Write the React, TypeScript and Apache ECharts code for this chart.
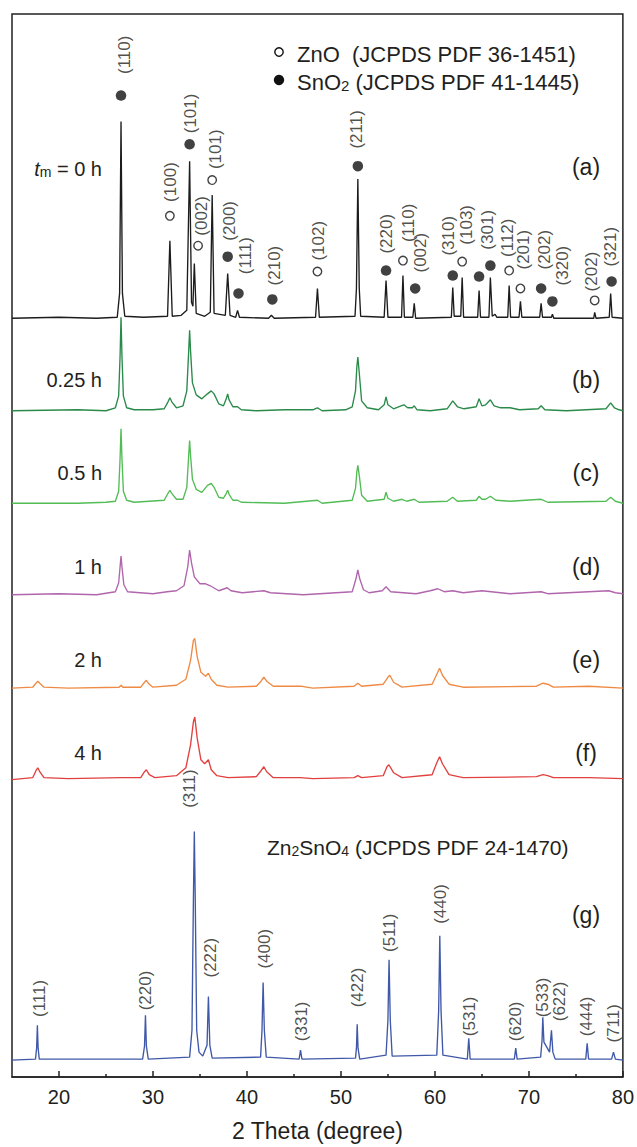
import React, { useEffect, useRef } from "react";
import * as echarts from "echarts";

// ---------- axis ----------
const X_MIN = 15;
const X_MAX = 80;
const MAJOR_TICKS = [20, 30, 40, 50, 60, 70, 80];
const MINOR_TICKS = [25, 35, 45, 55, 65, 75];

// ---------- patterns: [2theta, intensity above own baseline] ----------
const patternA = [
  [15, 0], [20, 1], [24, 0], [26.2, 1], [26.45, 25], [26.6, 198], [26.75, 25], [27.0, 2], [29, 1],
  [31.55, 2], [31.8, 78], [32.05, 2], [33.0, 3], [33.6, 8], [33.9, 158], [34.1, 16], [34.25, 12], [34.4, 55], [34.6, 5],
  [35.5, 2], [36.1, 6], [36.3, 124], [36.5, 5], [37.7, 3], [37.95, 45], [38.2, 3], [38.8, 1], [39.0, 8], [39.2, 1],
  [42.3, 0], [42.6, 3], [42.9, 0], [47.3, 1], [47.5, 30], [47.7, 1], [51.5, 2], [51.65, 30], [51.8, 140], [51.95, 30],
  [52.1, 2], [54.6, 1], [54.8, 38], [55.0, 1], [56.45, 1], [56.6, 43], [56.75, 1], [57.65, 1], [57.8, 15], [57.95, 0],
  [61.75, 1], [61.9, 31], [62.05, 2], [62.75, 2], [62.9, 41], [63.05, 1], [64.55, 1], [64.7, 28], [64.85, 1],
  [65.75, 1], [65.9, 41], [66.1, 2], [66.4, 4], [66.6, 1], [67.75, 1], [67.9, 33], [68.05, 1], [68.95, 1], [69.1, 17],
  [69.25, 1], [71.15, 1], [71.3, 15], [71.45, 1], [72.4, 1], [72.5, 4], [72.65, 0], [76.9, 0], [77.0, 6], [77.15, 0],
  [78.55, 1], [78.7, 25], [78.85, 1], [80, 0],
];

const patternB = [
  [15, 0], [22, 1], [25, 0], [26.0, 3], [26.35, 15], [26.5, 55], [26.6, 94], [26.7, 55], [26.85, 15], [27.2, 3],
  [28, 1], [30, 1], [31.2, 2], [31.6, 9], [31.8, 13], [32.0, 9], [32.5, 3], [33.2, 5], [33.6, 20], [33.8, 60],
  [33.9, 81], [34.0, 60], [34.2, 28], [34.6, 16], [35.2, 12], [35.8, 17], [36.2, 20], [36.5, 17], [37.0, 7],
  [37.5, 5], [37.8, 12], [37.95, 17], [38.1, 11], [38.5, 4], [39.0, 4], [39.4, 1], [41, 0], [44, 1], [47.0, 1],
  [47.5, 3], [48, 0], [50.5, 1], [51.2, 4], [51.55, 20], [51.7, 45], [51.8, 54], [51.95, 38], [52.2, 10], [52.8, 3],
  [54.0, 1], [54.6, 6], [54.8, 14], [55.0, 6], [55.6, 2], [56.4, 5], [56.7, 6], [57.1, 3], [57.6, 3], [57.8, 5],
  [58.1, 1], [59.5, 0], [61.3, 2], [61.9, 10], [62.4, 4], [63.1, 2], [64.4, 4], [64.7, 12], [65.0, 5], [65.4, 6],
  [65.9, 11], [66.3, 5], [67, 3], [68, 3], [69, 1], [71.0, 2], [71.3, 5], [71.7, 1], [74, 0], [78.2, 2], [78.7, 8],
  [79.1, 3], [79.6, 1], [80, 0],
];

const patternC = [
  [15, 0], [22, 0], [25, 1], [26.0, 2], [26.35, 12], [26.5, 45], [26.6, 75], [26.7, 45], [26.85, 12], [27.2, 3],
  [28, 1], [31.2, 3], [31.6, 10], [31.8, 13], [32.0, 10], [32.5, 4], [33.2, 4], [33.6, 16], [33.8, 48], [33.9, 63],
  [34.0, 48], [34.2, 24], [34.6, 14], [35.2, 11], [35.8, 18], [36.2, 20], [36.5, 16], [37.0, 6], [37.5, 5],
  [37.8, 10], [37.95, 13], [38.1, 9], [38.5, 3], [39.0, 3], [39.4, 1], [44, 0], [47.5, 3], [48, 0], [51.2, 3],
  [51.55, 15], [51.7, 32], [51.8, 38], [51.95, 28], [52.2, 8], [52.8, 2], [54.6, 4], [54.8, 11], [55.0, 5],
  [55.6, 2], [56.5, 4], [57, 2], [57.8, 4], [58.3, 1], [61.3, 2], [61.9, 6], [62.4, 2], [64.4, 3], [64.7, 7],
  [65.0, 4], [65.4, 4], [65.9, 7], [66.5, 3], [68, 2], [71.3, 4], [72, 1], [78.2, 2], [78.7, 6], [79.2, 2], [80, 0],
];

const patternD = [
  [15, 0], [20, 1], [24, 0], [26.0, 3], [26.35, 12], [26.5, 28], [26.6, 39], [26.7, 28], [26.9, 10], [27.3, 3],
  [30, 1], [31.5, 3], [32.5, 4], [33.3, 9], [33.7, 28], [33.9, 45], [34.1, 32], [34.4, 18], [35, 11], [35.6, 11],
  [36.1, 9], [37, 4], [37.9, 7], [38.3, 4], [39.5, 2], [41.8, 4], [42.5, 2], [46, 0], [51.2, 3], [51.6, 16],
  [51.8, 25], [52.0, 16], [52.4, 5], [53, 2], [54.4, 4], [54.8, 8], [55.3, 3], [58, 1], [59.5, 4], [60.3, 6],
  [61, 3], [61.9, 4], [63, 2], [65, 4], [66, 3], [68, 1], [71.3, 3], [72, 1], [78.5, 4], [79.2, 2], [80, 1],
];

const patternE = [
  [15, 0], [17.2, 1], [17.55, 5], [17.75, 7], [17.95, 5], [18.4, 1], [21, 0], [26.4, 1], [26.6, 3], [26.8, 1],
  [28.7, 1], [29.1, 6], [29.3, 8], [29.5, 5], [30, 1], [32.5, 3], [33.5, 9], [34.0, 28], [34.3, 48], [34.45, 50],
  [34.7, 32], [35.1, 16], [35.6, 12], [35.9, 15], [36.2, 9], [36.8, 3], [38, 1], [41.0, 2], [41.5, 7], [41.8, 11],
  [42.1, 7], [42.8, 2], [45.7, 2], [47, 0], [51.4, 2], [51.8, 5], [52.2, 2], [54.5, 4], [55.0, 11], [55.2, 13],
  [55.6, 6], [56.5, 1], [59.7, 4], [60.2, 14], [60.5, 20], [60.8, 13], [61.5, 4], [63, 1], [70.8, 2], [71.5, 5],
  [72.0, 4], [72.6, 1], [76.4, 2], [80, 0],
];

const patternF = [
  [15, 0], [17.2, 2], [17.55, 9], [17.75, 12], [17.95, 8], [18.4, 2], [21, 1], [26.6, 2], [28.7, 2], [29.1, 8],
  [29.3, 10], [29.6, 5], [30.2, 2], [32.5, 4], [33.5, 12], [34.0, 35], [34.3, 58], [34.45, 63], [34.7, 42],
  [35.1, 20], [35.5, 16], [35.9, 20], [36.2, 10], [36.8, 4], [38, 2], [41.0, 3], [41.5, 9], [41.8, 13], [42.1, 8],
  [42.8, 2], [45.7, 2], [47, 1], [51.4, 2], [51.8, 4], [52.2, 2], [54.5, 4], [54.9, 13], [55.1, 15], [55.6, 7],
  [56.5, 2], [59.7, 5], [60.2, 17], [60.5, 23], [60.8, 16], [61.5, 5], [63, 2], [70.8, 3], [71.5, 5], [72.0, 4],
  [72.6, 2], [76.4, 2], [80, 1],
];

const patternG = [
  [15, 0], [17.5, 1], [17.62, 12], [17.7, 35], [17.78, 12], [17.9, 1], [28.9, 1], [29.1, 14], [29.2, 45], [29.3, 14],
  [29.5, 1], [33.9, 3], [34.15, 30], [34.3, 160], [34.4, 230], [34.5, 160], [34.65, 30], [34.9, 8], [35.3, 4],
  [35.75, 15], [35.9, 64], [36.05, 15], [36.3, 2], [41.45, 3], [41.6, 30], [41.72, 78], [41.85, 30], [42.05, 3],
  [45.55, 1], [45.7, 10], [45.85, 1], [51.55, 2], [51.65, 12], [51.73, 36], [51.82, 12], [52, 1], [54.8, 5],
  [55.0, 40], [55.12, 101], [55.25, 40], [55.45, 4], [60.2, 5], [60.4, 50], [60.52, 125], [60.65, 50], [60.85, 5],
  [63.45, 1], [63.6, 22], [63.75, 1], [68.45, 1], [68.6, 12], [68.75, 1], [71.25, 3], [71.4, 20], [71.48, 43],
  [71.6, 18], [72.2, 8], [72.4, 30], [72.55, 8], [72.8, 1], [76.05, 1], [76.2, 17], [76.35, 1], [78.8, 1],
  [79.0, 8], [79.2, 1], [80, 0],
];

const PATTERNS = [patternA, patternB, patternC, patternD, patternE, patternF, patternG];
const OFFSETS = [763, 670, 577, 485, 391, 299, 17];
const PATTERN_NAMES = ["(a)", "(b)", "(c)", "(d)", "(e)", "(f)", "(g)"];
const TIME_LABELS = ["0 h", "0.25 h", "0.5 h", "1 h", "2 h", "4 h"];
const COLORS = ["#1c1c1c", "#2a8a4a", "#52bc55", "#b065ac", "#ef8a45", "#e2403f", "#3f58a8"];

// ---------- phase markers on (a) ----------
const SNO2_X = [26.6, 33.9, 37.95, 39.1, 42.7, 51.8, 54.8, 57.9, 61.9, 64.7, 65.9, 71.3, 72.5, 78.8];
const SNO2_Y = [987, 938, 825, 788, 782, 916, 811, 793, 806, 805, 816, 793, 780, 800];
const ZNO_X = [31.8, 34.8, 36.3, 47.5, 56.6, 62.9, 67.9, 69.1, 77.0];
const ZNO_Y = [866, 836, 902, 810, 821, 820, 811, 793, 781];

// ---------- hkl labels ----------
const A_HKL = ["(110)", "(100)", "(101)", "(002)", "(101)", "(200)", "(111)", "(210)", "(102)", "(211)", "(220)",
  "(110)", "(002)", "(310)", "(103)", "(301)", "(112)", "(201)", "(202)", "(320)", "(202)", "(321)"];
const A_HKL_X = [27.0, 31.9, 34.0, 35.2, 36.7, 38.1, 39.8, 42.9, 47.6, 51.7, 54.9, 57.2, 58.5, 61.4, 63.4, 65.6,
  67.7, 69.4, 71.7, 73.6, 76.7, 78.7];
const A_HKL_Y = [1028, 900, 969, 866, 933, 861, 826, 816, 841, 953, 848, 859, 829, 846, 857, 852, 844, 832, 832,
  816, 810, 835];

const G_HKL = ["(111)", "(220)", "(311)", "(222)", "(400)", "(331)", "(422)", "(511)", "(440)", "(531)", "(620)",
  "(533)", "(622)", "(444)", "(711)"];
const G_HKL_X = [17.9, 29.2, 33.9, 36.1, 41.9, 45.8, 51.8, 55.2, 60.6, 63.7, 68.6, 71.4, 73.3, 76.1, 79.0];
const G_HKL_Y = [79, 87, 290, 120, 129, 56, 90, 145, 174, 61, 56, 80, 76, 61, 54];

const FONT = "'Liberation Sans', Arial, Helvetica, sans-serif";
const INK = "#231f20";

export default function App() {
  const ref = useRef<HTMLDivElement>(null);

  useEffect(() => {
    if (!ref.current) return;
    const chart = echarts.init(ref.current, undefined, { renderer: "svg" });

    const lineSeries = PATTERNS.map((p, i) => ({
      type: "line",
      name: PATTERN_NAMES[i],
      data: p.map(([x, y]) => [x, y + OFFSETS[i]]),
      showSymbol: false,
      symbol: "none",
      lineStyle: { color: COLORS[i], width: 1.35 },
      z: 2,
    }));

    const labelSeries = (names: string[], xs: number[], ys: number[], fontSize: number) => ({
      type: "scatter",
      data: names.map((n, k) => ({ name: n, value: [xs[k], ys[k]] })),
      symbolSize: 1,
      itemStyle: { color: "rgba(0,0,0,0)" },
      label: {
        show: true,
        position: "inside",
        rotate: 90,
        formatter: (p: any) => p.name,
        fontSize,
        fontFamily: FONT,
        color: INK,
        align: "center",
        verticalAlign: "middle",
      },
      z: 5,
    });

    const smallRich = (size: number) => ({
      n: { fontSize: size, fontFamily: FONT, fill: INK, color: INK, lineHeight: size + 4, verticalAlign: "bottom" },
      s: { fontSize: Math.round(size * 0.68), fontFamily: FONT, fill: INK, color: INK, lineHeight: size + 1, verticalAlign: "bottom" },
      i: { fontSize: size, fontFamily: FONT, fontStyle: "italic", fill: INK, color: INK, lineHeight: size + 4, verticalAlign: "bottom" },
    });

    const timeY = [167, 380, 473, 567, 660, 753];
    const nameY = [167, 380, 473, 567, 660, 753, 915];

    const graphics: any[] = [];
    TIME_LABELS.forEach((t, i) => {
      if (i === 0) {
        graphics.push({
          type: "text",
          style: {
            text: "{i|t}{s|m}{n| = " + t + "}",
            rich: smallRich(20),
            x: 102, y: timeY[i], align: "right", verticalAlign: "middle",
          },
        });
      } else {
        graphics.push({
          type: "text",
          style: { text: t, x: 102, y: timeY[i], align: "right", verticalAlign: "middle", fontSize: 20, fontFamily: FONT, fill: INK },
        });
      }
    });
    PATTERN_NAMES.forEach((n, i) => {
      graphics.push({
        type: "text",
        style: { text: n, x: 586, y: nameY[i], align: "center", verticalAlign: "middle", fontSize: 23, fontFamily: FONT, fill: INK },
      });
    });
    // legend
    graphics.push({ type: "circle", shape: { cx: 279, cy: 52, r: 4.2 }, style: { fill: "#fff", stroke: "#111", lineWidth: 1.4 } });
    graphics.push({ type: "circle", shape: { cx: 279, cy: 80, r: 5.2 }, style: { fill: "#111" } });
    graphics.push({
      type: "text",
      style: { text: "{n|ZnO  (JCPDS PDF 36-1451)}", rich: smallRich(22), x: 297, y: 52, align: "left", verticalAlign: "middle" },
    });
    graphics.push({
      type: "text",
      style: { text: "{n|SnO}{s|2}{n| (JCPDS PDF 41-1445)}", rich: smallRich(22), x: 297, y: 80, align: "left", verticalAlign: "middle" },
    });
    graphics.push({
      type: "text",
      style: { text: "{n|Zn}{s|2}{n|SnO}{s|4}{n| (JCPDS PDF 24-1470)}", rich: smallRich(21), x: 267, y: 845, align: "left", verticalAlign: "middle" },
    });

    chart.setOption({
      animation: false,
      backgroundColor: "#ffffff",
      grid: { left: 12, right: 7, top: 14, bottom: 64, show: true, borderColor: "#222", borderWidth: 1.5 },
      xAxis: [
        {
          type: "value",
          min: X_MIN,
          max: X_MAX,
          position: "bottom",
          axisLine: { show: true, lineStyle: { color: "#222", width: 1.5 } },
          axisTick: { show: true, inside: true, length: 6, customValues: MAJOR_TICKS, lineStyle: { color: "#222", width: 1.5 } },
          axisLabel: { customValues: MAJOR_TICKS, fontSize: 20, fontFamily: FONT, color: INK, margin: 10 },
          splitLine: { show: false },
          name: "2 Theta (degree)",
          nameLocation: "middle",
          nameGap: 42,
          nameTextStyle: { fontSize: 23, fontFamily: FONT, color: INK },
        },
        {
          type: "value",
          min: X_MIN,
          max: X_MAX,
          position: "bottom",
          axisLine: { show: false },
          axisTick: { show: true, inside: true, length: 3, customValues: MINOR_TICKS, lineStyle: { color: "#222", width: 1.5 } },
          axisLabel: { show: false },
          splitLine: { show: false },
        },
      ],
      yAxis: { type: "value", min: 0, max: 1069, show: false, splitLine: { show: false } },
      series: [
        ...lineSeries,
        {
          type: "scatter",
          data: SNO2_X.map((x, k) => [x, SNO2_Y[k]]),
          symbol: "circle",
          symbolSize: 10.5,
          itemStyle: { color: "#111" },
          z: 4,
        },
        {
          type: "scatter",
          data: ZNO_X.map((x, k) => [x, ZNO_Y[k]]),
          symbol: "circle",
          symbolSize: 8.5,
          itemStyle: { color: "#fff", borderColor: "#111", borderWidth: 1.4 },
          z: 4,
        },
        labelSeries(A_HKL, A_HKL_X, A_HKL_Y, 17),
        labelSeries(G_HKL, G_HKL_X, G_HKL_Y, 17),
      ],
      graphic: graphics,
    });

    return () => chart.dispose();
  }, []);

  return <div ref={ref} style={{ position: "absolute", left: 0, top: 0, width: 637, height: 1147 }} />;
}
